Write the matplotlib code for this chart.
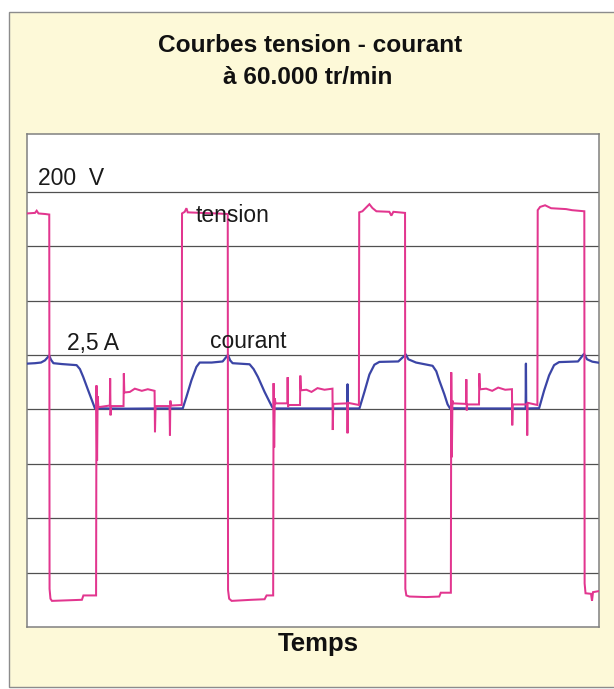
import matplotlib
matplotlib.use("Agg")
import matplotlib.pyplot as plt
from matplotlib.patches import Rectangle

# ---- data -------------------------------------------------------------
# time axis in arbitrary units (no time scale is printed on the chart)
tension_t = [
    0, 8, 9.7, 11.5, 18, 22.3,
    22.6, 23.5, 25, 40, 55, 56.5, 69.2,
    69.6, 70.2, 70.8, 71.5, 83, 83.3, 83.7, 84.2, 96.7, 97, 97.5, 103, 108,
    115, 121, 127.8, 128.2, 128.8, 142.8, 143.2, 143.6, 144.2, 155,
    155.3, 158, 159.7, 161, 175, 190, 201.1,
    201.4, 202.5, 205, 225, 238, 240, 246.6,
    247, 247.6, 248.2, 249, 260.8, 261.1, 261.5, 262, 273.5, 273.8, 274.4,
    280, 285, 291, 298, 306, 306.3, 306.8, 320.8, 321.1, 321.5, 332.5,
    332.8, 336, 343, 346, 350, 363, 365, 367, 378.7,
    379, 380, 383, 400, 413, 414.5, 424.6,
    425, 425.6, 426.2, 427, 439.8, 440.1, 440.5, 441, 452.8, 453.1, 453.8,
    460, 466, 472, 479, 485.8, 486.1, 486.6, 500.8, 501.1, 501.5, 511.3,
    511.6, 514, 519, 525, 540, 546, 558.3,
    558.6, 559.5, 565, 566, 567, 573,
]
tension_v = [
    180, 180.5, 182.5, 180, 179.5, 179,
    -165, -174, -176, -175.5, -175, -171, -171,
    22, -47, 12, 2, 3.5, 28.5, -5.5, 3, 3, 33, 15.5, 16, 19,
    17, 18.5, 17, -21, 3, 3, -24, 8, 3.5, 4,
    180, 181.5, 184.8, 181, 180.5, 180, 179.5,
    -166, -174, -176, -175, -174.5, -171, -171,
    24, -35, 10, 5.5, 5.5, 29.5, 2, 4, 4, 31, 17.5,
    18, 16, 19.5, 18, 19, -19, 5, 5.5, -22, 6, 4,
    181, 182, 188.5, 185, 182, 181.5, 178, 181.5, 180.5,
    -165, -171, -172, -172.5, -172, -168.5, -168.5,
    34, -44, 8, 5.5, 5, 27.6, -1, 4.5, 4.5, 33, 18.4,
    19, 17, 20, 18, 18.5, -14.7, 4.5, 4.5, -24, 6, 4,
    183, 186, 187.5, 184.8, 184, 183, 182,
    -160, -169, -169.5, -176, -168, -167,
]

courant_t = [
    0, 8, 14, 18, 22.3, 24, 26.5, 35, 49.7, 53, 56.3, 61.3, 66.3, 68,
    80, 100, 130, 156,
    159.7, 164.7, 169.7, 173, 185, 196, 201.3, 203.5, 206, 223, 227, 231.3,
    238, 243, 245.7, 247, 270, 320.8, 321.1, 321.4, 333,
    338, 343, 348, 353, 372, 379.5, 382, 389.7, 406.3, 410, 413, 418, 421.3,
    423.7, 450, 499.5, 499.8, 500.1, 513,
    518, 523, 528, 533, 552, 558, 561, 566.3, 573,
]
courant_a = [
    2.1, 2.12, 2.15, 2.25, 2.47, 2.28, 2.12, 2.08, 2.03, 1.85, 1.49, 0.87, 0.26, 0.05,
    0.04, 0.03, 0.04, 0.04,
    0.57, 1.33, 1.95, 2.15, 2.15, 2.2, 2.5, 2.25, 2.12, 2.07, 1.85, 1.49,
    0.8, 0.34, 0.1, 0.04, 0.04, 0.04, 1.15, 0.04, 0.04,
    0.8, 1.6, 2.05, 2.18, 2.2, 2.52, 2.3, 2.15, 2.0, 1.75, 1.33, 0.7, 0.23,
    0.05, 0.04, 0.04, 2.1, 0.04, 0.05,
    0.86, 1.56, 2.03, 2.17, 2.2, 2.55, 2.3, 2.19, 2.14,
]

# vertical scale: 50 V per division for the voltage, 2.5 A per division
# for the current, both traces sharing the same zero line
v_grid = [-150, -100, -50, 0, 50, 100, 150, 200]
v_lim = (-200, 253)
volts_per_amp = 20.0

# ---- figure -----------------------------------------------------------
W, H = 614, 689
fig = plt.figure(figsize=(W / 100, H / 100), dpi=100)
fig.patch.set_facecolor("white")
plt.rcParams["font.family"] = ["Liberation Sans", "DejaVu Sans"]


def fx(px):
    return px / W


def fy(py):
    return 1 - py / H


# cream panel behind everything
panel = Rectangle((fx(9), fy(687)), fx(620) - fx(9), fy(12) - fy(687),
                  transform=fig.transFigure, facecolor="#FDF9D8",
                  edgecolor="#8c8c8c", linewidth=1.0, zorder=0)
fig.add_artist(panel)

left, right, top, bottom = 27, 599, 134, 627
rect = [fx(left), fy(bottom), fx(right) - fx(left), fy(top) - fy(bottom)]

ax = fig.add_axes(rect)
ax.set_facecolor("white")
ax.set_xlim(0, 573)
ax.set_ylim(*v_lim)
ax.set_yticks(v_grid)
ax.set_xticks([])
ax.grid(axis="y", color="#505050", linewidth=0.9)
ax.set_axisbelow(True)
for s in ax.spines.values():
    s.set_color("#808080")
    s.set_linewidth(1.1)

ax_i = ax.twinx()
ax_i.set_ylim(v_lim[0] / volts_per_amp, v_lim[1] / volts_per_amp)
ax_i.set_xlim(0, 573)
ax_i.axis("off")
ax_i.plot(courant_t, courant_a, color="#3B45A6", linewidth=1.6,
          solid_joinstyle="round")

ax_v = ax.twinx()
ax_v.set_ylim(*v_lim)
ax_v.set_xlim(0, 573)
ax_v.axis("off")
ax_v.plot(tension_t, tension_v, color="#E2368F", linewidth=1.45,
          solid_joinstyle="miter")

# the twins switch the left ticks back on: hide them again
ax.tick_params(left=False, labelleft=False, right=False, labelright=False,
               bottom=False, labelbottom=False)

# labels inside the screen
lbl = dict(fontsize=16.5, color="#1a1a1a", va="baseline", ha="left",
           transform=ax.transAxes, zorder=5)
ax_v.text((38 - left) / 572, 1 - (185 - top) / 493, "200  V", **lbl)
ax_v.text((196 - left) / 572, 1 - (222 - top) / 493, "tension", **lbl)
ax_v.text((67 - left) / 572, 1 - (350 - top) / 493, "2,5 A", **lbl)
ax_v.text((210 - left) / 572, 1 - (348 - top) / 493, "courant", **lbl)

# titles
fig.text(fx(310), fy(46), "Courbes tension - courant", ha="center",
         va="center", fontsize=17.6, fontweight="bold", color="#111111")
fig.text(fx(308), fy(78), "à 60.000 tr/min", ha="center", va="center",
         fontsize=17.6, fontweight="bold", color="#111111")
fig.text(fx(318), fy(644), "Temps", ha="center", va="center",
         fontsize=18.5, fontweight="bold", color="#111111")

fig.savefig("out.png", dpi=100, facecolor=fig.get_facecolor())
